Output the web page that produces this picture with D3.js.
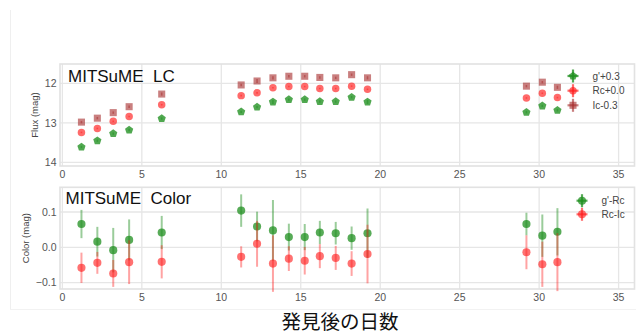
<!DOCTYPE html>
<html>
<head>
<meta charset="utf-8">
<script src="https://cdn.jsdelivr.net/npm/d3@7"></script>
<style>
  html, body { margin: 0; padding: 0; background: #fff; }
  svg { display: block; font-family: "Liberation Sans", Arial, sans-serif; }
</style>
</head>
<body>
<svg id="chart" width="636" height="336"></svg>
<script>
// Observation days after discovery
const days = [1.2, 2.2, 3.2, 4.2, 6.25, 11.25, 12.25, 13.25, 14.25, 15.25, 16.2, 17.2, 18.2, 19.2, 29.2, 30.2, 31.15];

// Light curve (offset already applied as in legend)
const gPlus03  = [13.61, 13.45, 13.27, 13.18, 12.89, 12.72, 12.60, 12.47, 12.41, 12.41, 12.46, 12.46, 12.35, 12.47, 12.73, 12.57, 12.68];
const rcPlus00 = [13.24, 13.14, 12.96, 12.84, 12.54, 12.31, 12.24, 12.11, 12.08, 12.08, 12.13, 12.13, 12.07, 12.15, 12.37, 12.25, 12.36];
const icMinus03 = [12.98, 12.88, 12.74, 12.59, 12.27, 12.04, 11.94, 11.86, 11.82, 11.82, 11.85, 11.86, 11.78, 11.86, 12.07, 11.97, 12.10];
const gErr  = [0.03, 0.03, 0.03, 0.03, 0.03, 0.03, 0.03, 0.05, 0.03, 0.03, 0.03, 0.03, 0.03, 0.05, 0.03, 0.03, 0.03];
const rcErr = [0.02, 0.02, 0.02, 0.02, 0.02, 0.02, 0.02, 0.02, 0.02, 0.02, 0.02, 0.02, 0.02, 0.02, 0.02, 0.02, 0.02];
const icErr = [0.03, 0.03, 0.03, 0.03, 0.04, 0.03, 0.05, 0.04, 0.03, 0.03, 0.03, 0.03, 0.03, 0.04, 0.03, 0.03, 0.04];

// Colour indices
const gMinusRc  = [0.066, 0.016, -0.008, 0.021, 0.042, 0.104, 0.059, 0.048, 0.029, 0.029, 0.042, 0.040, 0.026, 0.040, 0.066, 0.033, 0.044];
const gMinusRcErr = [0.040, 0.042, 0.063, 0.058, 0.047, 0.046, 0.042, 0.086, 0.038, 0.037, 0.033, 0.032, 0.033, 0.070, 0.032, 0.060, 0.067];
const rcMinusIc = [-0.058, -0.044, -0.074, -0.042, -0.041, -0.027, 0.010, -0.046, -0.032, -0.038, -0.025, -0.030, -0.046, -0.019, -0.014, -0.048, -0.042];
const rcMinusIcErr = [0.043, 0.031, 0.038, 0.062, 0.047, 0.030, 0.065, 0.080, 0.035, 0.039, 0.034, 0.034, 0.035, 0.083, 0.048, 0.064, 0.082];

// Ticks and labels
const xTicks = [0, 5, 10, 15, 20, 25, 30, 35];
const fluxTicks = [12, 13, 14];
const colorTicks = [0.1, 0.0, -0.1];
const lcLegend = ["g'+0.3", "Rc+0.0", "Ic-0.3"];
const colorLegend = ["g'-Rc", "Rc-Ic"];
const lcTitle = "MITSuME  LC";
const colorTitle = "MITSuME  Color";
const xLabel = "発見後の日数";
const fluxLabel = "Flux (mag)";
const colorLabel = "Color (mag)";

const svg = d3.select("#chart");

// Faint page frame
svg.append("line").attr("x1", 10.5).attr("x2", 10.5).attr("y1", 10).attr("y2", 309)
  .attr("stroke", "#efefef").attr("stroke-width", 1);
svg.append("line").attr("x1", 10).attr("x2", 636).attr("y1", 309.5).attr("y2", 309.5)
  .attr("stroke", "#f2f2f2").attr("stroke-width", 1);

// Pentagon marker (point up)
const pentagon = {
  draw(ctx, size) {
    const r = Math.sqrt(size / 2.3776);
    for (let i = 0; i < 5; i++) {
      const a = -Math.PI / 2 + i * 2 * Math.PI / 5;
      const px = r * Math.cos(a), py = r * Math.sin(a);
      if (i === 0) ctx.moveTo(px, py); else ctx.lineTo(px, py);
    }
    ctx.closePath();
  }
};

const x = d3.scaleLinear().domain([-0.15, 36]).range([60, 634.5]);
const yFlux = d3.scaleLinear().domain([11.51, 14.09]).range([64, 166]);
const yColor = d3.scaleLinear().domain([-0.118, 0.17]).range([289, 187.3]);

const gridColor = "#e6e6e6";
const tickColor = "#555";

function drawPanel(y, yTicks, yFmt, ylab, title, titleX, titleY, labelX) {
  const yBottom = d3.max(y.range()), yTop = d3.min(y.range());
  const g = svg.append("g");
  // grid
  g.selectAll(".gx").data(xTicks).join("line")
    .attr("x1", d => x(d)).attr("x2", d => x(d))
    .attr("y1", yTop).attr("y2", yBottom)
    .attr("stroke", gridColor).attr("stroke-width", 1.3);
  g.selectAll(".gy").data(yTicks).join("line")
    .attr("x1", x.range()[0]).attr("x2", x.range()[1])
    .attr("y1", d => y(d)).attr("y2", d => y(d))
    .attr("stroke", gridColor).attr("stroke-width", 1.3);
  // frame
  g.append("rect").attr("x", x.range()[0]).attr("y", yTop)
    .attr("width", x.range()[1] - x.range()[0]).attr("height", yBottom - yTop)
    .attr("fill", "none").attr("stroke", "#e2e2e2").attr("stroke-width", 1.6);
  // tick labels
  g.selectAll(".tx").data(xTicks).join("text")
    .attr("x", d => x(d)).attr("y", yBottom + 11.5)
    .attr("text-anchor", "middle").attr("font-size", 10.5).attr("fill", tickColor)
    .text(d => d);
  g.selectAll(".ty").data(yTicks).join("text")
    .attr("x", 56.5).attr("y", d => y(d) + 3.7)
    .attr("text-anchor", "end").attr("font-size", 10.5).attr("fill", tickColor)
    .text(yFmt);
  // axis label
  g.append("text")
    .attr("transform", `translate(${labelX},${(yBottom + yTop) / 2}) rotate(-90)`)
    .attr("text-anchor", "middle").attr("font-size", 9.5).attr("fill", "#444")
    .text(ylab);
  // title
  g.append("text").attr("x", titleX).attr("y", titleY)
    .attr("font-size", 17).attr("fill", "#111").style("white-space", "pre")
    .text(title);
  return g;
}

function drawSeries(g, y, vals, errs, color, symType, size, lineOpacity, markerOpacity, lw) {
  const s = g.append("g");
  s.selectAll("line").data(days).join("line")
    .attr("x1", d => x(d)).attr("x2", d => x(d))
    .attr("y1", (d, i) => y(vals[i] - errs[i]))
    .attr("y2", (d, i) => y(vals[i] + errs[i]))
    .attr("stroke", color).attr("stroke-opacity", lineOpacity).attr("stroke-width", lw);
  s.selectAll("path").data(days).join("path")
    .attr("transform", (d, i) => `translate(${x(d)},${y(vals[i])})`)
    .attr("d", d3.symbol().type(symType).size(size))
    .attr("fill", color).attr("fill-opacity", markerOpacity);
}

function legendItem(g, lx, ly, tx, label, color, symType, size, opacity) {
  g.append("line").attr("x1", lx).attr("x2", lx).attr("y1", ly - 6.5).attr("y2", ly + 6.5)
    .attr("stroke", color).attr("stroke-opacity", opacity).attr("stroke-width", 2.2);
  g.append("line").attr("x1", lx - 5.5).attr("x2", lx + 5.5).attr("y1", ly).attr("y2", ly)
    .attr("stroke", color).attr("stroke-opacity", opacity).attr("stroke-width", 2.2);
  g.append("path").attr("transform", `translate(${lx},${ly})`)
    .attr("d", d3.symbol().type(symType).size(size))
    .attr("fill", color).attr("fill-opacity", opacity);
  g.append("text").attr("x", tx).attr("y", ly + 3.6)
    .attr("font-size", 10).attr("fill", "#444").text(label);
}

const green = "#1f8f1f", red = "#ff1a1a", brown = "#a52a2a";

// Top panel: light curve
const lcPanel = drawPanel(yFlux, fluxTicks, d => d, fluxLabel, lcTitle, 68, 82, 38);
drawSeries(lcPanel, yFlux, gPlus03, gErr, green, pentagon, 44, 0.5, 0.78, 1.6);
drawSeries(lcPanel, yFlux, rcPlus00, rcErr, red, d3.symbolCircle, 44, 0.5, 0.65, 1.6);
drawSeries(lcPanel, yFlux, icMinus03, icErr, brown, d3.symbolSquare, 50, 0.5, 0.6, 1.6);
legendItem(lcPanel, 573, 76, 592.5, lcLegend[0], green, pentagon, 44, 0.78);
legendItem(lcPanel, 573, 90.7, 592.5, lcLegend[1], red, d3.symbolCircle, 44, 0.65);
legendItem(lcPanel, 573, 105.3, 592.5, lcLegend[2], brown, d3.symbolSquare, 50, 0.6);

// Bottom panel: colour indices
const fmtColor = d => (d < 0 ? "\u2212" : "") + Math.abs(d).toFixed(1);
const colorPanel = drawPanel(yColor, colorTicks, fmtColor, colorLabel, colorTitle, 65.5, 203.5, 29);
drawSeries(colorPanel, yColor, gMinusRc, gMinusRcErr, green, d3.symbolCircle, 52, 0.45, 0.75, 2);
drawSeries(colorPanel, yColor, rcMinusIc, rcMinusIcErr, red, d3.symbolCircle, 52, 0.4, 0.62, 2);
legendItem(colorPanel, 582, 200.7, 601.5, colorLegend[0], green, d3.symbolCircle, 52, 0.75);
legendItem(colorPanel, 582, 214.3, 601.5, colorLegend[1], red, d3.symbolCircle, 52, 0.62);

// Shared x-axis label
svg.append("text").attr("x", 340).attr("y", 329)
  .attr("text-anchor", "middle").attr("font-size", 19.5).attr("fill", "#111")
  .attr("font-family", "'Noto Sans CJK JP', sans-serif")
  .text(xLabel);
</script>
</body>
</html>
